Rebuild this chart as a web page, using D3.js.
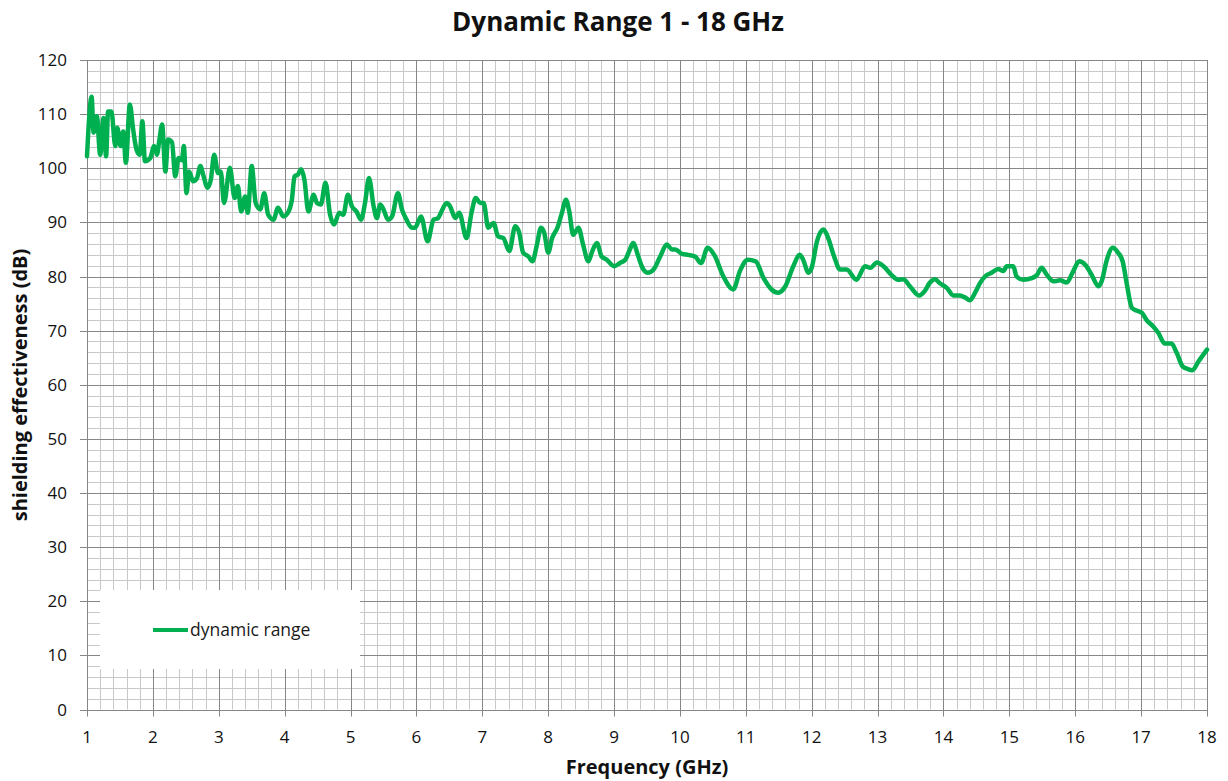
<!DOCTYPE html>
<html>
<head>
<meta charset="utf-8">
<script src="https://cdn.jsdelivr.net/npm/d3@7/dist/d3.min.js"></script>
<style>
  body { margin: 0; background: #fff; }
  svg { display: block; font-family: "Open Sans", sans-serif; }
</style>
</head>
<body>
<svg id="chart" width="1228" height="781"></svg>
<script>
// frequency (GHz) and shielding effectiveness (dB)
var freq = [
  1.00, 1.02, 1.07, 1.10, 1.15, 1.20, 1.25, 1.29, 1.32, 1.37, 1.43, 1.46, 1.51, 1.55, 1.59, 1.65,
  1.70, 1.75, 1.80, 1.84, 1.88, 1.96, 2.02, 2.06, 2.10, 2.14, 2.19, 2.23, 2.29, 2.34, 2.39, 2.44,
  2.47, 2.51, 2.55, 2.61, 2.67, 2.72, 2.77, 2.83, 2.88, 2.93, 2.99, 3.03, 3.08, 3.17, 3.24, 3.29,
  3.34, 3.40, 3.44, 3.50, 3.56, 3.63, 3.69, 3.75, 3.83, 3.90, 3.98, 4.05, 4.11, 4.15, 4.20, 4.25,
  4.30, 4.36, 4.44, 4.49, 4.55, 4.62, 4.69, 4.75, 4.83, 4.89, 4.96, 5.02, 5.09, 5.16, 5.22, 5.28,
  5.35, 5.40, 5.45, 5.50, 5.57, 5.63, 5.72, 5.78, 5.85, 5.93, 5.98, 6.07, 6.17, 6.26, 6.33, 6.38,
  6.46, 6.51, 6.59, 6.65, 6.76, 6.84, 6.90, 6.97, 7.02, 7.09, 7.17, 7.24, 7.32, 7.41, 7.50, 7.56,
  7.62, 7.70, 7.76, 7.83, 7.89, 7.94, 8.00, 8.06, 8.14, 8.21, 8.27, 8.32, 8.38, 8.46, 8.53, 8.61,
  8.67, 8.74, 8.81, 8.89, 9.00, 9.09, 9.17, 9.24, 9.29, 9.36, 9.42, 9.51, 9.60, 9.70, 9.80, 9.88,
  9.93, 10.03, 10.13, 10.23, 10.32, 10.42, 10.52, 10.66, 10.81, 10.91, 11.03, 11.15, 11.27, 11.39, 11.49, 11.60,
  11.72, 11.82, 11.87, 11.95, 12.00, 12.08, 12.18, 12.25, 12.34, 12.43, 12.53, 12.68, 12.81, 12.89, 12.99, 13.09,
  13.21, 13.31, 13.39, 13.49, 13.63, 13.72, 13.79, 13.87, 13.95, 14.05, 14.15, 14.25, 14.33, 14.40, 14.48, 14.55,
  14.63, 14.73, 14.83, 14.91, 14.96, 15.06, 15.11, 15.21, 15.34, 15.42, 15.49, 15.57, 15.67, 15.77, 15.87, 15.97,
  16.06, 16.15, 16.25, 16.35, 16.40, 16.48, 16.57, 16.65, 16.72, 16.78, 16.86, 16.93, 17.01, 17.08, 17.18, 17.26,
  17.36, 17.46, 17.54, 17.63, 17.71, 17.78, 17.87, 18.00
];
var se = [
  102.2, 106.8, 113.2, 106.6, 109.6, 102.5, 109.3, 102.2, 110.5, 110.5, 104.1, 107.5, 104.1, 106.8, 101.0, 111.8,
  107.2, 103.5, 102.5, 108.7, 101.3, 101.9, 104.1, 102.5, 105.3, 108.1, 99.4, 105.3, 104.8, 98.5, 101.9, 101.5,
  104.1, 95.4, 99.4, 97.6, 98.2, 100.4, 98.5, 96.4, 97.9, 102.5, 99.1, 99.4, 93.6, 100.1, 94.5, 96.7,
  92.0, 94.8, 91.8, 100.4, 93.6, 92.4, 95.4, 91.4, 90.5, 92.7, 91.1, 91.8, 94.2, 98.5, 98.8, 99.8,
  97.9, 92.0, 95.1, 93.6, 93.3, 97.3, 91.4, 89.6, 91.8, 91.4, 95.1, 93.0, 92.0, 90.5, 93.6, 98.2,
  93.0, 90.8, 93.3, 92.4, 90.5, 91.1, 95.4, 92.4, 90.5, 89.0, 89.0, 91.1, 86.5, 90.5, 90.8, 92.0,
  93.6, 93.0, 90.8, 91.8, 87.1, 92.0, 94.5, 93.6, 93.6, 89.0, 89.9, 87.4, 87.1, 84.7, 89.3, 88.1,
  84.4, 83.7, 82.8, 85.9, 89.0, 88.1, 84.4, 87.1, 89.0, 91.8, 94.2, 92.0, 87.7, 89.0, 85.9, 82.8,
  84.7, 86.2, 83.7, 83.1, 81.9, 82.5, 83.1, 85.0, 86.2, 84.0, 81.9, 80.7, 81.3, 83.7, 85.9, 85.0,
  85.0, 84.2, 84.0, 83.7, 82.5, 85.3, 84.0, 80.0, 77.6, 81.0, 83.1, 82.8, 79.7, 77.6, 77.0, 78.2,
  81.9, 84.0, 83.1, 80.7, 81.6, 86.5, 88.7, 87.1, 83.7, 81.3, 81.3, 79.4, 81.9, 81.6, 82.6, 81.9,
  80.3, 79.4, 79.5, 78.2, 76.5, 77.4, 78.8, 79.5, 78.7, 77.9, 76.5, 76.5, 76.1, 75.6, 77.0, 78.7,
  80.0, 80.7, 81.4, 81.0, 81.9, 81.9, 80.0, 79.4, 79.7, 80.3, 81.6, 80.3, 79.1, 79.3, 78.9, 81.0,
  82.8, 82.2, 80.3, 78.2, 79.1, 83.1, 85.3, 84.4, 82.8, 78.8, 74.2, 73.7, 73.3, 72.0, 70.8, 69.6,
  67.6, 67.6, 65.9, 63.4, 62.9, 62.7, 64.3, 66.5
];
var xTicks = [1, 2, 3, 4, 5, 6, 7, 8, 9, 10, 11, 12, 13, 14, 15, 16, 17, 18];
var yTicks = [0, 10, 20, 30, 40, 50, 60, 70, 80, 90, 100, 110, 120];
var seriesName = 'dynamic range';

(function() {
  var svg = d3.select('#chart');
  var plotLeft = 87, plotRight = 1207, plotTop = 60, plotBottom = 709.5;

  var x = d3.scaleLinear().domain([1, 18]).range([plotLeft, plotRight]);
  var y = d3.scaleLinear().domain([0, 120]).range([plotBottom, plotTop]);

  function px(v) { return Math.round(v) + 0.5; }

  // minor grid
  var grid = svg.append('g');
  grid.selectAll('line.vminor')
    .data(d3.range(1, 18.001, 0.2).filter(function(d) { return Math.abs(d - Math.round(d)) > 0.01; }))
    .enter().append('line')
    .attr('x1', function(d) { return px(x(d)); })
    .attr('x2', function(d) { return px(x(d)); })
    .attr('y1', plotTop).attr('y2', plotBottom)
    .style('stroke', '#c8c8c8').style('stroke-width', 1);
  grid.selectAll('line.hminor')
    .data(d3.range(0, 120.001, 2).filter(function(d) { return d % 10 !== 0; }))
    .enter().append('line')
    .attr('y1', function(d) { return px(y(d)); })
    .attr('y2', function(d) { return px(y(d)); })
    .attr('x1', plotLeft).attr('x2', plotRight)
    .style('stroke', '#c8c8c8').style('stroke-width', 1);

  // major grid + tick marks
  grid.selectAll('line.vmajor')
    .data(xTicks)
    .enter().append('line')
    .attr('x1', function(d) { return px(x(d)); })
    .attr('x2', function(d) { return px(x(d)); })
    .attr('y1', plotTop).attr('y2', plotBottom + 7)
    .style('stroke', '#868686').style('stroke-width', 1);
  grid.selectAll('line.hmajor')
    .data(yTicks)
    .enter().append('line')
    .attr('y1', function(d) { return px(y(d)); })
    .attr('y2', function(d) { return px(y(d)); })
    .attr('x1', plotLeft - 7).attr('x2', plotRight)
    .style('stroke', '#868686').style('stroke-width', 1);

  // legend box (sits over the grid)
  var legend = svg.append('g');
  legend.append('rect')
    .attr('x', 100).attr('y', 590)
    .attr('width', 260).attr('height', 79)
    .style('fill', '#fff');
  legend.append('line')
    .attr('x1', 153).attr('x2', 188)
    .attr('y1', 630).attr('y2', 630)
    .style('stroke', '#00b050').style('stroke-width', 4);
  legend.append('text')
    .attr('x', 190).attr('y', 636)
    .style('font-size', '17.5px').style('fill', '#1a1a1a')
    .text(seriesName);

  // data line
  var pts = freq.map(function(f, i) { return [f, se[i]]; });
  var line = d3.line()
    .curve(d3.curveMonotoneX)
    .x(function(d) { return x(d[0]); })
    .y(function(d) { return y(d[1]); });
  svg.append('path')
    .datum(pts)
    .attr('d', line)
    .style('fill', 'none')
    .style('stroke', '#00b050')
    .style('stroke-width', 4.5)
    .style('stroke-linejoin', 'round')
    .style('stroke-linecap', 'round');

  // tick labels
  svg.append('g').selectAll('text')
    .data(xTicks)
    .enter().append('text')
    .attr('x', function(d) { return x(d); })
    .attr('y', 743)
    .attr('text-anchor', 'middle')
    .style('font-size', '17px').style('fill', '#111')
    .text(function(d) { return d; });
  svg.append('g').selectAll('text')
    .data(yTicks)
    .enter().append('text')
    .attr('x', 67)
    .attr('y', function(d) { return y(d) + 6; })
    .attr('text-anchor', 'end')
    .style('font-size', '17px').style('fill', '#111')
    .text(function(d) { return d; });

  // titles
  svg.append('text')
    .attr('x', 618).attr('y', 31)
    .attr('text-anchor', 'middle')
    .style('font-size', '26px').style('font-weight', 'bold').style('fill', '#111')
    .text('Dynamic Range 1 - 18 GHz');
  svg.append('text')
    .attr('x', 647).attr('y', 774)
    .attr('text-anchor', 'middle')
    .style('font-size', '20px').style('font-weight', 'bold').style('fill', '#111')
    .text('Frequency (GHz)');
  svg.append('text')
    .attr('transform', 'translate(27,385) rotate(-90)')
    .attr('text-anchor', 'middle')
    .style('font-size', '20px').style('font-weight', 'bold').style('fill', '#111')
    .text('shielding effectiveness (dB)');
})();
</script>
</body>
</html>
